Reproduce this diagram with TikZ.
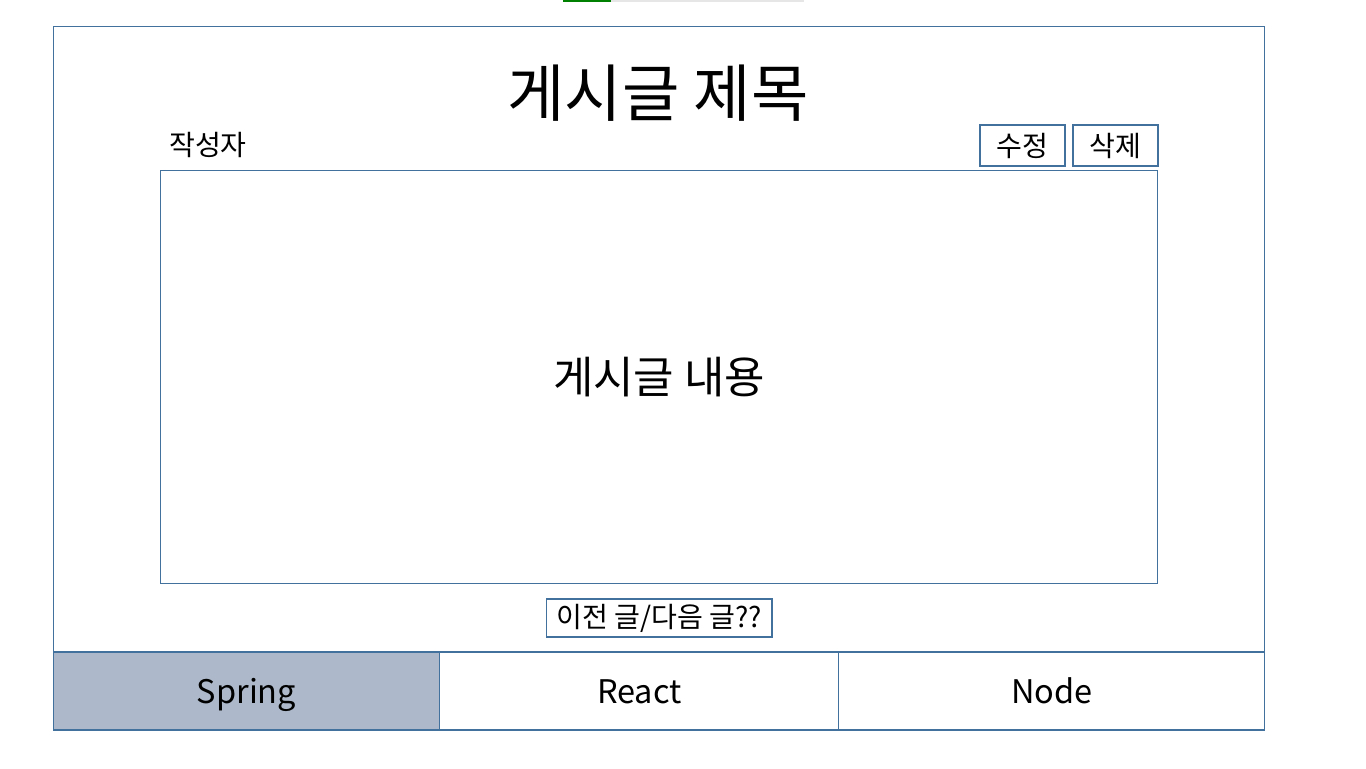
\documentclass[tikz,border=0pt]{standalone}
\usepackage{fontspec}
\setmainfont{Noto Sans CJK KR}
\usepackage{xcolor}
\usepackage{tikz}
\usetikzlibrary{positioning}
\definecolor{frameblue}{RGB}{65,113,156}
\definecolor{tabgray}{RGB}{173,185,202}
\definecolor{bargreen}{RGB}{0,128,0}
\definecolor{bargray}{RGB}{230,230,230}

\begin{document}
\begin{tikzpicture}[
x=0.02cm, y=-0.02cm,
boxnode/.style={rectangle, align=center, draw=frameblue, line width=0.6pt, inner sep=0pt, outer sep=0pt},
btnnode/.style={boxnode, minimum width=1.7cm, minimum height=0.82cm, font=\fontsize{16}{19}\selectfont},
tabnode/.style={boxnode, minimum height=1.56cm, text height=13.7pt, text depth=0pt, font=\fontsize{18.5}{22}\selectfont},
]
\useasboundingbox (0,0) rectangle (1366,768);
%Top bar
\fill[bargreen] (563,0) rectangle (611,2);
\fill[bargray] (611,0) rectangle (804,2);

%Nodes
\node[boxnode, minimum width=24.24cm, minimum height=14.08cm](Page) at (659,378){};
\node[font=\fontsize{35.5}{42}\selectfont](Title) at (658,93){게시글 제목};
\node[font=\fontsize{16}{19}\selectfont](Writer) at (208,145){작성자};
\node[btnnode](Edit) at (1022.5,145.5){수정};
\node[btnnode](Delete)[right=0.16cm of Edit]{삭제};
\node[boxnode, minimum width=19.96cm, minimum height=8.28cm, font=\fontsize{25}{30}\selectfont](Content) at (659,377){게시글 내용};
\node[boxnode, minimum width=4.52cm, minimum height=0.76cm, font=\fontsize{16}{19}\selectfont](Nav) at (659,618){이전 글/다음 글??};

%Tabs
\node[tabnode, fill=tabgray, minimum width=7.74cm](Spring) at (246.5,691){Spring};
\node[tabnode, minimum width=7.98cm](React)[right=0cm of Spring]{React};
\node[tabnode, minimum width=8.52cm](Node)[right=0cm of React]{Node};
\end{tikzpicture}
\end{document}
